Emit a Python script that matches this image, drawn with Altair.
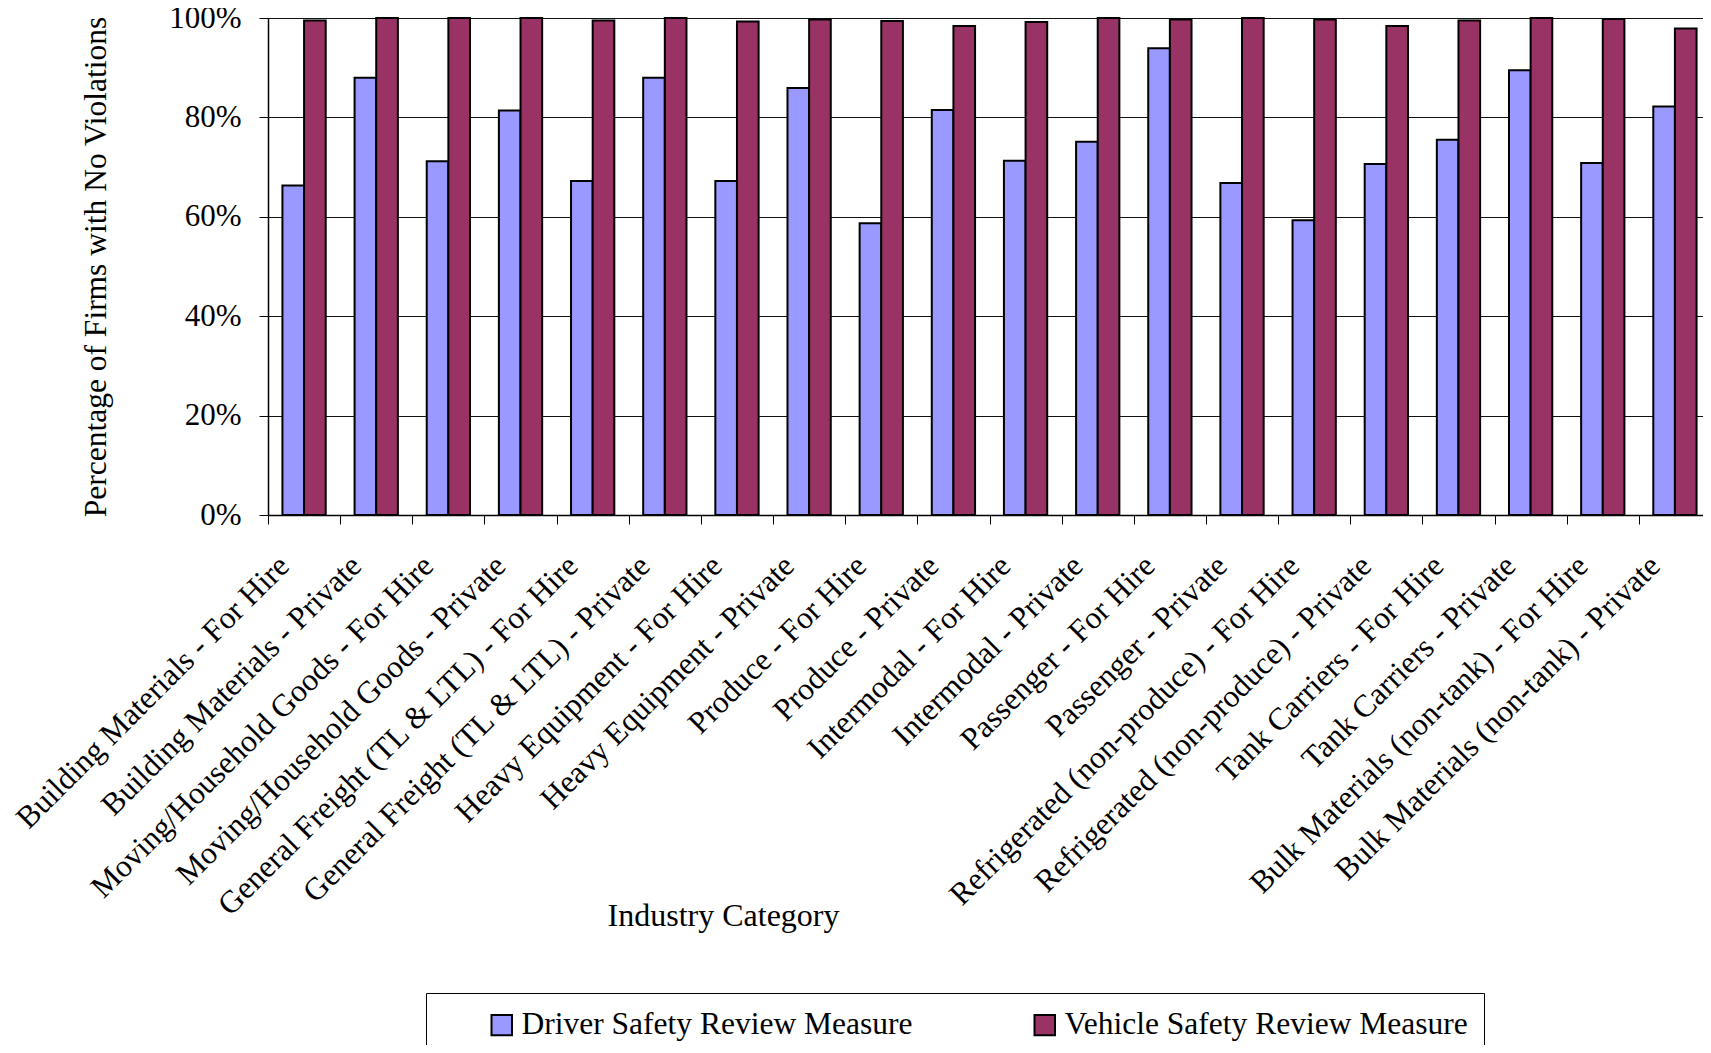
import altair as alt
import pandas as pd

categories = [
    "Building Materials - For Hire",
    "Building Materials - Private",
    "Moving/Household Goods - For Hire",
    "Moving/Household Goods - Private",
    "General Freight (TL & LTL) - For Hire",
    "General Freight (TL & LTL) - Private",
    "Heavy Equipment - For Hire",
    "Heavy Equipment - Private",
    "Produce - For Hire",
    "Produce - Private",
    "Intermodal - For Hire",
    "Intermodal - Private",
    "Passenger - For Hire",
    "Passenger - Private",
    "Refrigerated (non-produce) - For Hire",
    "Refrigerated (non-produce) - Private",
    "Tank Carriers - For Hire",
    "Tank Carriers - Private",
    "Bulk Materials (non-tank) - For Hire",
    "Bulk Materials (non-tank) - Private",
]
series = ["Driver Safety Review Measure", "Vehicle Safety Review Measure"]
driver_pct = [66.3, 88.0, 71.2, 81.4, 67.2, 88.0, 67.2, 85.9, 58.7, 81.5,
              71.3, 75.1, 93.9, 66.8, 59.3, 70.6, 75.5, 89.5, 70.8, 82.2]
vehicle_pct = [99.5, 100.0, 100.0, 100.0, 99.5, 100.0, 99.3, 99.7, 99.4, 98.4,
               99.2, 100.0, 99.7, 100.0, 99.7, 98.4, 99.5, 100.0, 99.8, 97.9]
colors = ["#9999FF", "#993366"]
y_ticks = [0, 0.2, 0.4, 0.6, 0.8, 1.0]

rows = []
for c, d, v in zip(categories, driver_pct, vehicle_pct):
    rows.append({"category": c, "series": series[0], "value": d / 100})
    rows.append({"category": c, "series": series[1], "value": v / 100})
df = pd.DataFrame(rows)

FONT = "Liberation Serif"

chart = alt.Chart(df).mark_bar(stroke="black", strokeWidth=2).encode(
    x=alt.X(
        "category:N",
        sort=categories,
        scale=alt.Scale(paddingInner=0, paddingOuter=0, range=[0, 1443]),
        axis=alt.Axis(
            title="Industry Category",
            titleFont=FONT, titleFontSize=32, titleFontWeight="normal", titleColor="black",
            titleX=455, titleY=400, titleAlign="center", titleBaseline="middle",
            labelFont=FONT, labelFontSize=31.5, labelColor="black",
            labelAngle=315, labelAlign="right", labelBaseline="middle",
            labelOffset=-20, labelPadding=37, labelLimit=0, labelOverlap=False,
            tickBand="extent", tickSize=9, tickColor="black", tickWidth=1,
            domainColor="black", domainWidth=1.5, grid=False,
        ),
    ),
    xOffset=alt.XOffset(
        "series:N", sort=series,
        scale=alt.Scale(domain=series, paddingInner=0, paddingOuter=0.667),
    ),
    y=alt.Y(
        "value:Q",
        scale=alt.Scale(domain=[0, 1], nice=False),
        axis=alt.Axis(
            title="Percentage of Firms with No Violations",
            titleFont=FONT, titleFontSize=31.5, titleFontWeight="normal", titleColor="black",
            titleX=-172, titleY=248.5, titleAngle=270, titleAlign="center", titleBaseline="middle",
            values=y_ticks, format=".0%",
            labelFont=FONT, labelFontSize=31, labelColor="black", labelPadding=18,
            tickSize=9, tickColor="black", tickWidth=1,
            domainColor="black", domainWidth=1.5,
            grid=True, gridColor="#111111", gridWidth=1.2,
        ),
    ),
    color=alt.Color(
        "series:N",
        scale=alt.Scale(domain=series, range=colors),
        legend=alt.Legend(
            title=" ", titleOrient="left", titleFontSize=1, titlePadding=44,
            orient="none", legendX=158, legendY=975, direction="horizontal", columns=2,
            columnPadding=116,
            labelFont=FONT, labelFontSize=31.5, labelColor="black", labelOffset=4, labelLimit=0,
            symbolType="square", symbolSize=420, symbolStrokeColor="black", symbolStrokeWidth=2,
            symbolOpacity=1,
            padding=16, strokeColor="black", fillColor="white",
        ),
    ),
).properties(
    width=1435,
    height=497,
    padding={"left": 260, "top": 10, "right": 0, "bottom": 530},
    autosize=alt.AutoSizeParams(type="none"),
).configure_view(stroke=None)

chart.save("out.html", embed_options={"renderer": "svg", "actions": False})
